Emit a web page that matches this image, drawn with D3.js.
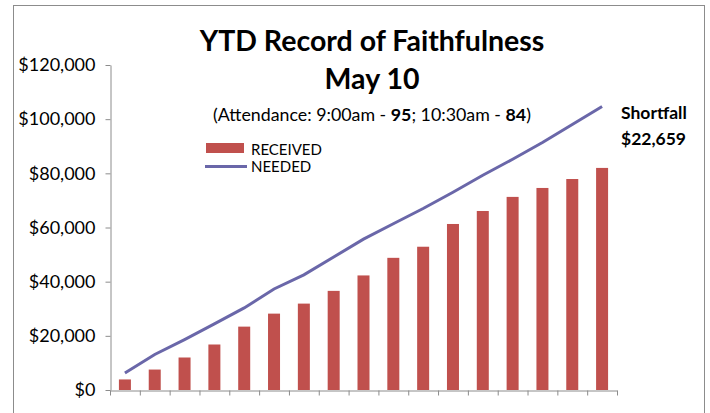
<!DOCTYPE html>
<html>
<head>
<meta charset="utf-8">
<script src="https://cdn.jsdelivr.net/npm/d3@7"></script>
<style>
  body { margin: 0; background: #fff; }
  svg { display: block; font-family: Lato, "Open Sans", sans-serif; }
</style>
</head>
<body>
<svg id="chart" width="710" height="413"></svg>
<script>
// weekly cumulative figures (Sundays through May 10)
const weeks = d3.range(1, 18).map(d => 'W' + d);
const received = [3900, 7550, 12000, 16800, 23400, 28200, 31900, 36600, 42300, 48800, 52900, 61300, 66100, 71300, 74600, 77900, 82000];
const needed = [6300, 13100, 18600, 24400, 30300, 37300, 42500, 49100, 55700, 61400, 67000, 73000, 79300, 85200, 91400, 98000, 104659];
const yTicks = [0, 20000, 40000, 60000, 80000, 100000, 120000];

const svg = d3.select('#chart');

/** frame around the chart */
svg.append('rect')
    .attr('x', 13.5).attr('y', 5.5)
    .attr('width', 691).attr('height', 420)
    .attr('fill', 'none')
    .attr('stroke', '#8c8c8c');

const xEdge = d3.scaleLinear().domain([0, weeks.length]).range([110, 617]);

const y = d3.scaleLinear().domain([0, 120000]).range([390, 65]);

/** y axis */
const yAxis = svg.append('g')
    .attr('transform', 'translate(110.5,0)')
    .call(d3.axisLeft(y)
        .tickValues(yTicks)
        .tickSize(5)
        .tickSizeOuter(0)
        .tickPadding(10)
        .tickFormat(d => '$' + d3.format(',')(d)));
yAxis.selectAll('path, line').attr('stroke', '#8c8c8c');
yAxis.selectAll('text').attr('font-size', 18).attr('fill', '#000').attr('font-family', 'Lato, sans-serif');

/** x axis, ticks between categories */
const xAxis = svg.append('g')
    .attr('transform', 'translate(0,390.5)')
    .call(d3.axisBottom(xEdge)
        .tickValues(d3.range(weeks.length + 1))
        .tickSize(5)
        .tickSizeOuter(0)
        .tickFormat(''));
xAxis.selectAll('path, line').attr('stroke', '#8c8c8c');

/** bars */
svg.selectAll('rect.bar')
    .data(received)
    .enter()
    .append('rect')
    .attr('class', 'bar')
    .attr('x', (d, i) => xEdge(i + 0.5) - 6)
    .attr('width', 12)
    .attr('y', d => y(d))
    .attr('height', d => y(0) - y(d))
    .attr('fill', '#c0504d');

/** needed line */
const line = d3.line()
    .x((d, i) => xEdge(i + 0.5))
    .y(d => y(d));

svg.append('path')
    .datum(needed)
    .attr('d', line)
    .attr('fill', 'none')
    .attr('stroke', '#6a67a9')
    .attr('stroke-width', 3);

/** titles */
svg.append('text')
    .attr('x', 372).attr('y', 51)
    .attr('text-anchor', 'middle')
    .attr('font-size', 28.5).attr('font-weight', 'bold')
    .text('YTD Record of Faithfulness');

svg.append('text')
    .attr('x', 372).attr('y', 89)
    .attr('text-anchor', 'middle')
    .attr('font-size', 28.5).attr('font-weight', 'bold')
    .text('May 10');

const sub = svg.append('text')
    .attr('x', 372).attr('y', 121)
    .attr('text-anchor', 'middle')
    .attr('font-size', 17.8);
sub.append('tspan').text('(Attendance: 9:00am - ');
sub.append('tspan').attr('font-weight', 'bold').text('95');
sub.append('tspan').text('; 10:30am - ');
sub.append('tspan').attr('font-weight', 'bold').text('84');
sub.append('tspan').text(')');

/** legend */
const legend = svg.append('g');
legend.append('rect')
    .attr('x', 206).attr('y', 143)
    .attr('width', 38).attr('height', 10)
    .attr('fill', '#c0504d');
legend.append('line')
    .attr('x1', 205).attr('x2', 247)
    .attr('y1', 166.5).attr('y2', 166.5)
    .attr('stroke', '#6a67a9').attr('stroke-width', 3);
legend.append('text')
    .attr('x', 251).attr('y', 155)
    .attr('font-size', 15)
    .text('RECEIVED');
legend.append('text')
    .attr('x', 251).attr('y', 172)
    .attr('font-size', 15)
    .text('NEEDED');

/** shortfall note */
const shortfall = needed[needed.length - 1] - received[received.length - 1];
svg.append('text')
    .attr('x', 621).attr('y', 119)
    .attr('font-size', 17.5).attr('font-weight', 'bold')
    .text('Shortfall');
svg.append('text')
    .attr('x', 621).attr('y', 145)
    .attr('font-size', 17.5).attr('font-weight', 'bold')
    .text('$' + d3.format(',')(shortfall));
</script>
</body>
</html>
